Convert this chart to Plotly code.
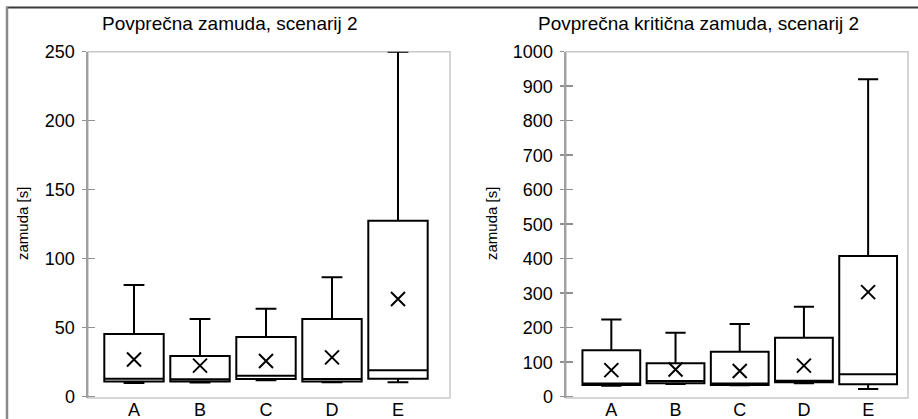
import plotly.graph_objects as go

categories = ["A", "B", "C", "D", "E"]

# Left panel: Povprečna zamuda
left_low = [10.0, 10.3, 12.0, 10.5, 10.5]
left_q1 = [11.0, 11.0, 12.8, 11.0, 13.0]
left_median = [13.0, 12.6, 15.2, 12.8, 19.1]
left_q3 = [45.5, 29.5, 43.3, 56.3, 127.5]
left_high = [81.0, 56.3, 63.8, 86.5, 250.0]
left_mean = [27.0, 22.5, 25.9, 28.5, 70.8]

# Right panel: Povprečna kritična zamuda
right_low = [32.0, 37.0, 33.0, 39.0, 22.0]
right_q1 = [34.0, 39.0, 34.0, 42.0, 36.0]
right_median = [38.0, 45.5, 38.0, 46.5, 65.0]
right_q3 = [134.5, 97.0, 130.0, 171.0, 408.0]
right_high = [224.0, 185.0, 211.0, 261.0, 920.0]
right_mean = [77.0, 79.0, 74.5, 90.0, 303.0]

titles = ["Povprečna zamuda, scenarij 2", "Povprečna kritična zamuda, scenarij 2"]
y_title = "zamuda [s]"

W, H = 918, 419
FONT = "Liberation Sans, Arial, sans-serif"

def px_x(p):
    return p / W

def px_y(p):
    return 1 - p / H

fig = go.Figure()

panels = [
    dict(low=left_low, q1=left_q1, med=left_median, q3=left_q3, high=left_high, mean=left_mean,
         xa="x", ya="y", ya2="y3"),
    dict(low=right_low, q1=right_q1, med=right_median, q3=right_q3, high=right_high, mean=right_mean,
         xa="x2", ya="y2", ya2="y4"),
]

for p in panels:
    fig.add_trace(go.Box(
        x=categories, q1=p["q1"], median=p["med"], q3=p["q3"],
        lowerfence=p["low"], upperfence=p["high"],
        xaxis=p["xa"], yaxis=p["ya"],
        width=0.9, whiskerwidth=0.35,
        line=dict(color="black", width=2), fillcolor="rgba(255,255,255,0)",
        boxpoints=False, showlegend=False, hoverinfo="skip",
    ))
    fig.add_trace(go.Scatter(
        x=categories, y=p["mean"], mode="markers",
        xaxis=p["xa"], yaxis=p["ya2"],
        marker=dict(symbol="x-thin", size=14, line=dict(color="black", width=2)),
        showlegend=False, hoverinfo="skip",
    ))

ydom = [px_y(398), px_y(51.7)]
xdom_l = [px_x(88), px_x(450)]
xdom_r = [px_x(566), px_x(908)]
yr_l = [-0.94, 250]
yr_r = [-3.77, 1000]

axis_font = dict(family=FONT, size=18, color="black")

def yax(rng, dtick, anchor):
    return dict(domain=ydom, range=rng, dtick=dtick, tick0=0, anchor=anchor, automargin=False,
                showline=True, linecolor="#a0a0a0", linewidth=2.5,
                ticks="outside", ticklen=4, tickwidth=1.5, tickcolor="#909090",
                showgrid=False, zeroline=False, tickfont=axis_font, ticklabelstandoff=3)

def yax_over(rng, dtick, anchor, over):
    return dict(domain=ydom, range=rng, dtick=dtick, tick0=0, anchor=anchor, overlaying=over,
                automargin=False,
                showline=False, ticks="inside", ticklen=7, tickwidth=1.5, tickcolor="#909090",
                showticklabels=False, showgrid=False, zeroline=False)

def xax(dom, rng, anchor):
    return dict(domain=dom, range=rng, type="category", anchor=anchor, automargin=False,
                showline=False, ticks="", showgrid=False, zeroline=False, tickfont=axis_font,
                ticklabelstandoff=-1)

fig.update_layout(
    template="none",
    width=W, height=H,
    margin=dict(l=0, r=0, t=0, b=0, autoexpand=False),
    paper_bgcolor="white", plot_bgcolor="white",
    font=dict(family=FONT, color="black"),
    showlegend=False,
    xaxis=xax(xdom_l, [-0.697, 4.788], "y"),
    xaxis2=xax(xdom_r, [-0.706, 4.621], "y2"),
    yaxis=yax(yr_l, 50, "x"),
    yaxis2=yax(yr_r, 100, "x2"),
    yaxis3=yax_over(yr_l, 50, "x", "y"),
    yaxis4=yax_over(yr_r, 100, "x2", "y2"),
)

# plot-area frames
for xr, yr in [("x domain", "y domain"), ("x2 domain", "y2 domain")]:
    fig.add_shape(type="rect", xref=xr, yref=yr, x0=0, x1=1, y0=0, y1=1,
                  line=dict(color="#c8c8c8", width=1.5), layer="below")

# outer chart border (top and left)
fig.add_shape(type="line", xref="paper", yref="paper",
              x0=px_x(6), x1=1, y0=px_y(7.5), y1=px_y(7.5),
              line=dict(color="#3a3a3a", width=2))
fig.add_shape(type="line", xref="paper", yref="paper",
              x0=px_x(7), x1=px_x(7), y0=0, y1=px_y(7),
              line=dict(color="#8a8a8a", width=2.5))

# titles
for txt, cx in zip(titles, [230, 698]):
    fig.add_annotation(text=txt, xref="paper", yref="paper", x=px_x(cx), y=px_y(23),
                       showarrow=False, xanchor="center", yanchor="middle",
                       font=dict(family=FONT, size=19, color="black"))

# y-axis titles
for cx in [22, 491]:
    fig.add_annotation(text=y_title, xref="paper", yref="paper", x=px_x(cx), y=px_y(224),
                       showarrow=False, xanchor="center", yanchor="middle", textangle=-90,
                       font=dict(family=FONT, size=15, color="black"))

fig.write_html(
    "out.html",
    config={"displayModeBar": False, "staticPlot": True},
    post_script="document.body.style.margin='0';document.body.style.overflow='hidden';",
)
